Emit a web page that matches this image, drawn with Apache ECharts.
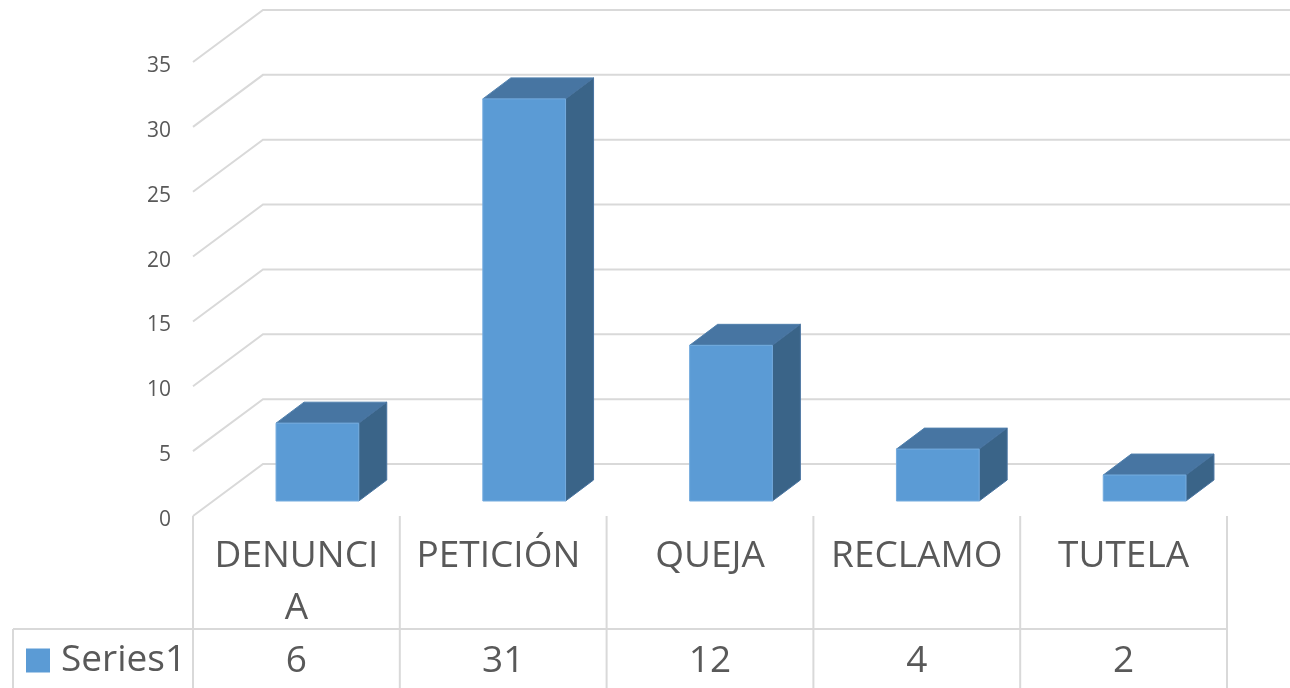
<!DOCTYPE html>
<html><head><meta charset="utf-8">
<style>html,body{margin:0;padding:0;background:#fff}#c{width:1290px;height:688px}</style>
<script src="https://cdn.jsdelivr.net/npm/echarts@6/dist/echarts.min.js"></script>
</head><body><div id="c"></div>
<script>
const categories = ['DENUNCIA', 'PETICIÓN', 'QUEJA', 'RECLAMO', 'TUTELA'];
const categoryLabels = ['DENUNCI\nA', 'PETICIÓN ', 'QUEJA', 'RECLAMO', 'TUTELA'];
const seriesName = 'Series1';
const seriesValues = [6, 31, 12, 4, 2];
const valueTicks = [0, 5, 10, 15, 20, 25, 30, 35];

const FONT = '"Open Sans", sans-serif';
const TEXT = '#595959', LINE = '#D9D9D9';
const WALL_DX = 70, WALL_DY = -52;
const BAR_SHIFT_X = 21, BAR_SHIFT_Y = -15, BAR_DX = 28, BAR_DY = -21;
const TABLE_ROW_Y = 113, TABLE_BOTTOM = 172, TABLE_LEFT_X = 13;
const lineStyle = {stroke: LINE, lineWidth: 2, fill: null};

function renderWall(params, api) {
  const half = api.size([1, 0])[0] / 2;
  const c = api.coord([0, api.value(0)]);
  const e = api.coord([categories.length - 1, api.value(0)]);
  const x0 = c[0] - half, x1 = e[0] + half;
  return {type: 'polyline', shape: {points: [[x0, c[1]], [x0 + WALL_DX, c[1] + WALL_DY], [x1 + WALL_DX, c[1] + WALL_DY]]}, style: lineStyle};
}
function renderTable(params, api) {
  const half = api.size([1, 0])[0] / 2;
  const i = api.value(0);
  const c = api.coord([i, 0]);
  const x = c[0] - half, y = c[1];
  const kids = [{type: 'line', shape: {x1: x, y1: y, x2: x, y2: y + TABLE_BOTTOM}, style: lineStyle}];
  if (i === categories.length) {
    kids.push({type: 'line', shape: {x1: TABLE_LEFT_X, y1: y + TABLE_ROW_Y, x2: x, y2: y + TABLE_ROW_Y}, style: lineStyle});
    kids.push({type: 'line', shape: {x1: TABLE_LEFT_X, y1: y + TABLE_ROW_Y, x2: TABLE_LEFT_X, y2: y + TABLE_BOTTOM}, style: lineStyle});
  }
  return {type: 'group', children: kids};
}
function renderBar(params, api) {
  const i = api.value(0), v = api.value(1);
  const top = api.coord([i, v]), base = api.coord([i, 0]);
  const hw = api.size([1, 0])[0] * 0.2;
  const l = top[0] - hw + BAR_SHIFT_X, r = top[0] + hw + BAR_SHIFT_X;
  const t = top[1] + BAR_SHIFT_Y, b = base[1] + BAR_SHIFT_Y;
  return {type: 'group', children: [
    {type: 'polygon', shape: {points: [[l, t], [r, t], [r + BAR_DX, t + BAR_DY], [l + BAR_DX, t + BAR_DY]]}, style: {fill: '#4775A2', stroke: '#5080AD', lineWidth: 1}},
    {type: 'polygon', shape: {points: [[r, t], [r + BAR_DX, t + BAR_DY], [r + BAR_DX, b + BAR_DY], [r, b]]}, style: {fill: '#3A6488', stroke: '#4873A0', lineWidth: 1}},
    {type: 'rect', shape: {x: l, y: t, width: r - l, height: b - t}, style: {fill: '#5B9BD5', stroke: '#74ABDE', lineWidth: 1}}
  ]};
}

const chart = echarts.init(document.getElementById('c'), null, {renderer: 'canvas'});
chart.setOption({
  animation: false,
  backgroundColor: '#fff',
  textStyle: {fontFamily: FONT},
  grid: {left: 193, top: 62, width: 1034, height: 454},
  legend: {
    data: [seriesName], left: 26, top: 642, orient: 'horizontal', padding: 0,
    itemWidth: 24, itemHeight: 24, itemGap: 0, icon: 'rect',
    textStyle: {fontFamily: FONT, fontSize: 37, color: TEXT, padding: [0, 0, 0, 6]}
  },
  xAxis: [
    {type: 'category', data: categories, position: 'bottom',
     axisLine: {show: false}, axisTick: {show: false}, splitLine: {show: false},
     axisLabel: {interval: 0, margin: 14, fontFamily: FONT, fontSize: 37, lineHeight: 52, color: TEXT, verticalAlign: 'top',
       formatter: (v, i) => categoryLabels[i]}},
    {type: 'category', data: seriesValues.map(String), position: 'bottom', offset: 105,
     axisLine: {show: false}, axisTick: {show: false}, splitLine: {show: false},
     axisLabel: {interval: 0, margin: 14, fontFamily: FONT, fontSize: 37, lineHeight: 52, color: TEXT, verticalAlign: 'top'}}
  ],
  yAxis: {type: 'value', min: 0, max: 35, interval: 5,
    axisLine: {show: false}, axisTick: {show: false}, splitLine: {show: false},
    axisLabel: {margin: 22, fontFamily: FONT, fontSize: 21, color: TEXT, verticalAlign: 'top', lineHeight: 8}},
  series: [
    {type: 'custom', name: 'walls', silent: true, data: valueTicks.map(v => [v]), encode: {y: 0}, renderItem: renderWall, z: 1},
    {type: 'custom', name: 'table', silent: true, data: categories.concat(['']).map((_, i) => [i]), encode: {x: 0}, renderItem: renderTable, z: 1},
    {type: 'custom', name: seriesName, data: seriesValues.map((v, i) => [i, v]), encode: {x: 0, y: 1},
     itemStyle: {color: '#5B9BD5'}, renderItem: renderBar, z: 2}
  ]
});
</script></body></html>
